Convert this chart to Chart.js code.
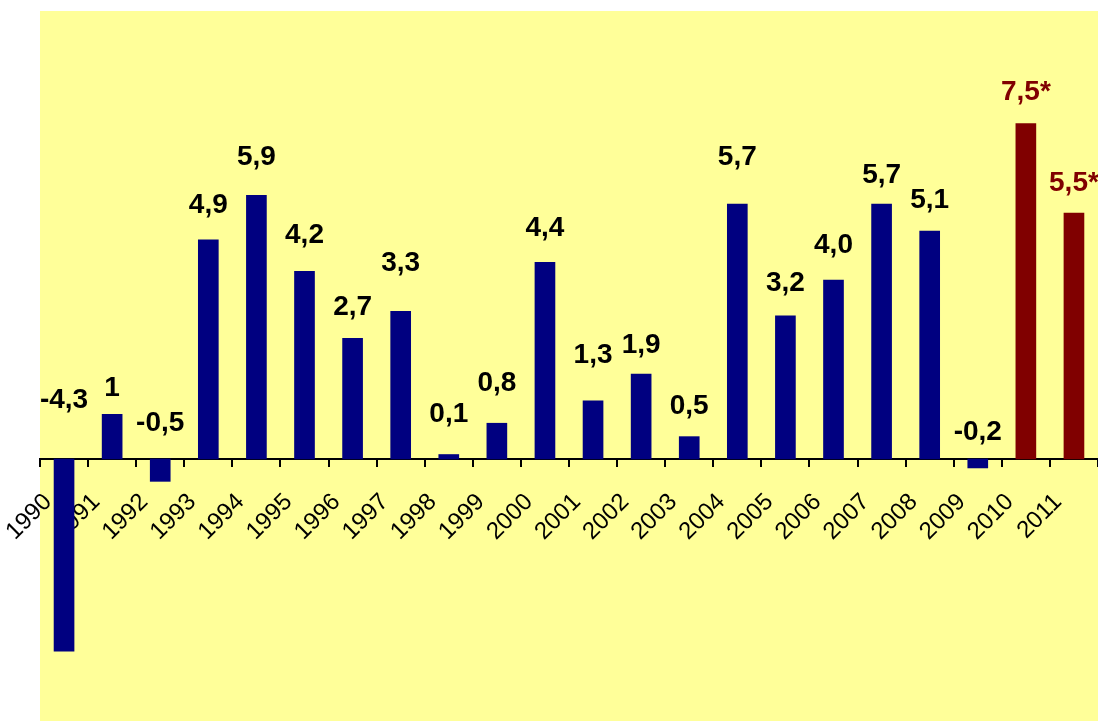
<!DOCTYPE html>
<html>
<head>
<meta charset="utf-8">
<script src="https://cdn.jsdelivr.net/npm/chart.js@4/dist/chart.umd.min.js"></script>
<style>
  html, body { margin: 0; padding: 0; background: #fff; }
  #wrap { width: 1098px; height: 721px; }
</style>
</head>
<body>
<div id="wrap"><canvas id="growthChart"></canvas></div>
<script>
// years on the x axis
const years = ['1990', '1991', '1992', '1993', '1994', '1995', '1996', '1997', '1998', '1999', '2000',
    '2001', '2002', '2003', '2004', '2005', '2006', '2007', '2008', '2009', '2010', '2011'];
// growth values, %
const growth = [-4.3, 1, -0.5, 4.9, 5.9, 4.2, 2.7, 3.3, 0.1, 0.8, 4.4,
    1.3, 1.9, 0.5, 5.7, 3.2, 4.0, 5.7, 5.1, -0.2, 7.5, 5.5];
// text shown above each bar
const valueLabels = ['-4,3', '1', '-0,5', '4,9', '5,9', '4,2', '2,7', '3,3', '0,1', '0,8', '4,4',
    '1,3', '1,9', '0,5', '5,7', '3,2', '4,0', '5,7', '5,1', '-0,2', '7,5*', '5,5*'];
// forecast years get the dark red colour
const forecast = [false, false, false, false, false, false, false, false, false, false, false,
    false, false, false, false, false, false, false, false, false, true, true];

const NAVY = '#000080';
const DARK_RED = '#800000';

// how far (px) each value label sits above its bar top / the zero line
// (labels were nudged by hand in the original, so they don't all line up)
const labelLift = [59, 26, 36, 35, 38, 36, 31, 48, 40, 40, 34,
    46, 29, 30, 47, 33, 35, 29, 31, 27, 31, 30];

// yellow plot background
const plotBackground = {
    id: 'plotBackground',
    beforeDraw(chart) {
        const { ctx, chartArea } = chart;
        ctx.save();
        ctx.fillStyle = '#FFFF99';
        ctx.fillRect(chartArea.left, chartArea.top, chartArea.right - chartArea.left, chartArea.bottom - chartArea.top);
        ctx.restore();
    }
};

// value labels above the bars (negatives sit above the zero line)
const valueLabelPlugin = {
    id: 'valueLabelPlugin',
    afterDraw(chart) {
        const { ctx } = chart;
        const meta = chart.getDatasetMeta(0);
        const zeroY = chart.scales.y.getPixelForValue(0);
        ctx.save();
        ctx.font = 'bold 28px "Liberation Sans", Arial, sans-serif';
        ctx.textAlign = 'center';
        ctx.textBaseline = 'middle';
        meta.data.forEach((bar, i) => {
            const top = growth[i] >= 0 ? bar.y : zeroY;
            ctx.fillStyle = forecast[i] ? DARK_RED : '#000';
            ctx.fillText(valueLabels[i], bar.x, top - labelLift[i]);
        });
        ctx.restore();
    }
};

const ctx = document.getElementById('growthChart').getContext('2d');
new Chart(ctx, {
    type: 'bar',
    data: {
        labels: years,
        datasets: [{
            data: growth,
            backgroundColor: forecast.map(f => f ? DARK_RED : NAVY),
            borderWidth: 0,
            barThickness: 20
        }]
    },
    options: {
        responsive: true,
        maintainAspectRatio: false,
        animation: false,
        layout: { padding: { left: 40, top: 11, right: 0, bottom: 0 } },
        plugins: {
            legend: { display: false },
            tooltip: { enabled: false }
        },
        scales: {
            x: {
                position: { y: 0 },
                offset: true,
                z: 1, // axis + year labels drawn over the bars, like the original
                afterFit(scale) {
                    // don't let the rotated labels squeeze the plot sideways
                    scale.paddingLeft = 0;
                    scale.paddingRight = 0;
                },
                grid: {
                    display: true,
                    drawOnChartArea: false,
                    drawTicks: true,
                    tickLength: 7,
                    offset: true,
                    color: '#000',
                    lineWidth: 2
                },
                border: { display: true, color: '#000', width: 2 },
                ticks: {
                    color: '#000',
                    font: { family: '"Liberation Sans", Arial, sans-serif', size: 24 },
                    minRotation: 45,
                    maxRotation: 45,
                    autoSkip: false,
                    labelOffset: -16,
                    padding: 22
                }
            },
            y: {
                display: false,
                min: -5.86,
                max: 10.02
            }
        }
    },
    plugins: [plotBackground, valueLabelPlugin]
});
</script>
</body>
</html>
